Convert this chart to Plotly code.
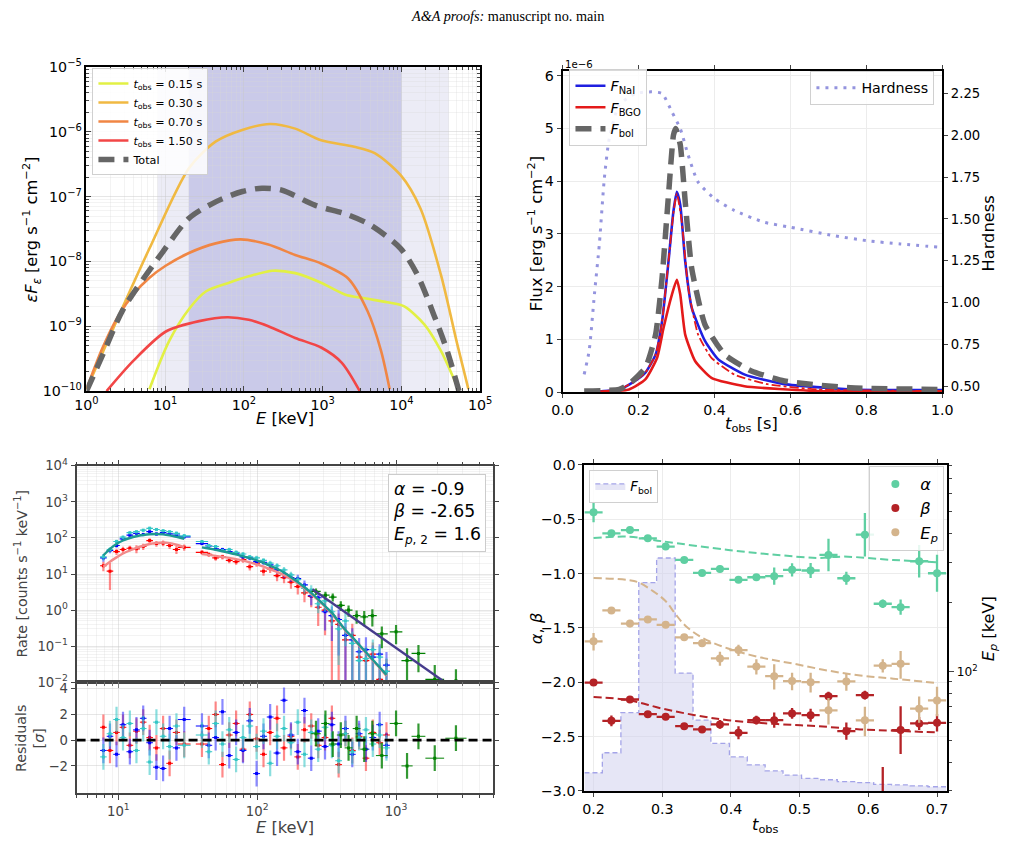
import numpy as np
import plotly.graph_objects as go

W, H = 1012, 842
# the captured page carries an 8 px body margin and is then fitted back to 1012 x 842;
# positions below are given in final picture pixels and mapped through that fit.
SX, OX = 0.9844, 7.9
SY, OY = 0.9814, 7.85
FS = 1 / SX
FONT = "DejaVu Sans"


def fx(p):
    return ((p - OX) / SX) / W


def fy(p):
    return 1 - ((p - OY) / SY) / H


def fsz(s):
    return round(s * FS, 2)


# ---------------- (a) spectra at several observer times ----------------
E_015 = [6.3, 11.2, 20.4, 33.1, 64.6, 115, 229, 447, 955, 1905, 3388, 6607, 10715, 19498, 31623, 45709, 53703]
F_015 = [1.07e-10, 5.9e-10, 1.9e-9, 3.47e-9, 4.7e-9, 5.9e-9, 7.2e-9, 6.6e-9, 4.7e-9, 3.1e-9, 2.7e-9,
         2.34e-9, 2.04e-9, 1.07e-9, 4.2e-10, 1.6e-10, 1.0e-10]
E_030 = [1, 2.4, 6.3, 20, 44, 95, 214, 447, 955, 2512, 4571, 9772, 17378, 31623, 51286, 70795]
F_030 = [1.07e-10, 1.2e-9, 1.58e-8, 2.75e-7, 7.1e-7, 1.07e-6, 1.32e-6, 1.12e-6, 7.4e-7, 5.9e-7, 4.7e-7,
         2.14e-7, 6.6e-8, 6.3e-9, 5.2e-10, 1.07e-10]
E_070 = [1, 1.58, 2.51, 3.98, 6.31, 10, 20, 43.7, 91, 204, 447, 955, 2089, 3715, 5495, 7079]
F_070 = [1.07e-10, 4.5e-10, 1.41e-9, 3.16e-9, 5.6e-9, 8.5e-9, 1.35e-8, 1.9e-8, 2.19e-8, 1.82e-8, 1.26e-8,
         9.3e-9, 5.5e-9, 1.7e-9, 4.2e-10, 1.07e-10]
E_150 = [1.8, 3.9, 10.2, 26.9, 61.7, 115, 204, 447, 955, 1738, 2951]
F_150 = [1.0e-10, 2.9e-10, 8.3e-10, 1.2e-9, 1.38e-9, 1.26e-9, 1.0e-9, 6.6e-10, 4.7e-10, 2.75e-10, 1.0e-10]
E_tot = [1, 1.62, 2.92, 9.33, 20.2, 43.7, 95.5, 170, 302, 794, 2089, 4074, 9772, 15849, 25704, 38019, 53703]
F_tot = [1.0e-10, 3.7e-10, 1.82e-9, 1.41e-8, 4.68e-8, 8.3e-8, 1.2e-7, 1.35e-7, 1.26e-7, 7.4e-8, 5.25e-8,
         3.63e-8, 1.58e-8, 6.3e-9, 1.51e-9, 4.2e-10, 1.0e-10]
band_wide = [8, 40000]
band_narrow = [20, 10000]
spec_labels = ["0.15", "0.30", "0.70", "1.50"]
spec_colors = ["#e2f044", "#f0b942", "#f08644", "#f24646"]

# ---------------- (b) light curves (flux in units of 1e-6) ----------------
t_nai = [0.06, 0.149, 0.184, 0.218, 0.245, 0.262, 0.279, 0.292, 0.301, 0.310, 0.323, 0.340, 0.375, 0.410,
         0.480, 0.584, 0.758, 1.0]
F_nai = [0.0, 0.05, 0.18, 0.37, 0.71, 1.34, 2.48, 3.43, 3.80, 3.55, 2.48, 1.60, 0.97, 0.62, 0.33, 0.15, 0.05, 0.04]
t_bgo = [0.06, 0.175, 0.218, 0.249, 0.266, 0.288, 0.301, 0.310, 0.323, 0.349, 0.392, 0.479, 0.67, 1.0]
F_bgo = [0.0, 0.05, 0.24, 0.65, 1.22, 1.85, 2.13, 1.85, 1.09, 0.59, 0.27, 0.11, 0.02, 0.01]
t_nai2 = [0.06, 0.149, 0.184, 0.218, 0.245, 0.262, 0.279, 0.292, 0.301, 0.314, 0.331, 0.357, 0.392, 0.453,
          0.54, 0.67, 1.0]
F_nai2 = [0.0, 0.05, 0.18, 0.37, 0.71, 1.34, 2.48, 3.40, 3.77, 3.23, 1.97, 1.09, 0.65, 0.33, 0.15, 0.05, 0.02]
t_bol = [0.057, 0.149, 0.175, 0.218, 0.245, 0.262, 0.279, 0.292, 0.298, 0.310, 0.323, 0.340, 0.375, 0.427,
         0.497, 0.584, 0.758, 1.0]
F_bol = [0.02, 0.05, 0.15, 0.46, 1.09, 2.16, 3.74, 4.87, 5.00, 4.69, 3.61, 2.35, 1.28, 0.71, 0.40, 0.21, 0.08, 0.05]
t_hard = [0.057, 0.070, 0.084, 0.097, 0.110, 0.123, 0.149, 0.192, 0.235, 0.262, 0.288, 0.310, 0.331, 0.357,
          0.401, 0.453, 0.531, 0.601, 0.714, 0.80, 0.889, 0.993]
hardness = [0.57, 0.71, 1.05, 1.35, 1.74, 1.98, 2.18, 2.25, 2.26, 2.25, 2.14, 2.04, 1.88, 1.72, 1.62, 1.55,
            1.48, 1.45, 1.40, 1.37, 1.35, 1.33]

# ---------------- (c) count spectra and residuals ----------------
E_lo = [7.8, 8.7, 9.7, 10.8, 12.1, 13.5, 15.1, 16.8, 18.8, 21.0, 23.4, 26.2, 29.8]
E_hi = [40, 44.8, 50.2, 56.2, 62.9, 70.5, 79, 88.4, 99, 111, 124, 139, 156, 175, 196, 219, 245, 275, 308,
        345, 386, 432, 484, 542, 607, 680, 762, 853]
cyan_lo = [30, 48, 80, 105, 140, 150, 165, 185, 172, 160, 150, 135, 115]
blue_lo = [28, 45, 62, 95, 120, 135, 125, 150, 130, 140, 130, 120, 108]
red_lo = [17, 12, 42, 48, 52, 50, 58, 85, 70, 72, 62, 48, 55]
cyan_lo_err = [0.20, 0.15, 0.12, 0.12, 0.10, 0.10, 0.10, 0.10, 0.10, 0.10, 0.10, 0.12, 0.12]
blue_lo_err = [0.22, 0.16, 0.14, 0.12, 0.11, 0.10, 0.11, 0.10, 0.11, 0.10, 0.11, 0.12, 0.13]
red_lo_err = [0.30, 0.70, 0.20, 0.20, 0.18, 0.25, 0.20, 0.15, 0.18, 0.18, 0.20, 0.25, 0.20]
cyan_hi = [80, 62, 58, 45, 48, 40, 36, 30, 28, 24, 20, 17, 13, 9.5, 7.0, 4.0, 3.6, 1.5, 1.8, 0.9, 0.3, 0.5,
           0.12, 0.04, 0.045, 0.08, 0.05, 0.02]
blue_hi = [70, 60, 50, 48, 42, 38, 30, 28, 22, 21, 18, 13, 10, 8, 7.5, 5, 2.5, 2.2, 0.9, 0.7, 0.55, 0.2,
           0.15, 0.07, 0.08, 0.05, 0.06, 0.03]
red_hi = [40, 35, 28, 30, 24, 22, 25, 16, 20, 12, 14, 9, 8, 6, 4.5, 3, 2.4, 1.2, 1.0, 0.5, 0.4, 0.15, 0.2,
          0.05, 0.04, 0.06, 0.012, 0.02]
cyan_hi_err = [0.10, 0.10, 0.10, 0.11, 0.11, 0.12, 0.12, 0.13, 0.14, 0.15, 0.16, 0.18, 0.20, 0.22, 0.25,
               0.30, 0.35, 0.45, 0.50, 0.60, 0.90, 0.80, 1.10, 1.30, 1.10, 0.90, 1.00, 1.30]
blue_hi_err = [0.10, 0.10, 0.11, 0.11, 0.12, 0.12, 0.13, 0.14, 0.15, 0.16, 0.17, 0.20, 0.22, 0.25, 0.28,
               0.33, 0.45, 0.50, 0.70, 0.80, 0.90, 1.20, 1.10, 1.40, 1.20, 1.10, 0.90, 1.30]
red_hi_err = [0.14, 0.15, 0.16, 0.15, 0.17, 0.18, 0.18, 0.22, 0.20, 0.25, 0.24, 0.30, 0.30, 0.35, 0.40,
              0.45, 0.50, 0.70, 0.80, 1.10, 1.00, 1.30, 1.10, 1.50, 1.30, 1.10, 1.60, 1.20]
model_nai_lo = [33, 50, 68, 85, 100, 112, 121, 127, 129, 126, 118, 107, 95]
model_red_lo = [16, 22, 29, 37, 45, 53, 61, 68, 73, 75, 72, 65, 56]
model_nai_hi = [55, 51, 47, 43, 39, 35, 31, 27.5, 24, 20.5, 17, 14, 11, 8.2, 6.0, 4.3, 3.0, 2.0, 1.3, 0.85,
                0.48, 0.28, 0.18, 0.11, 0.068, 0.042, 0.026, 0.016]
model_red_hi = [36, 34, 32, 30, 28, 26, 23.5, 21, 18.5, 16, 13.5, 11.5, 9.3, 7.3, 5.5, 4.0, 2.8, 1.9, 1.25,
                0.8, 0.46, 0.27, 0.17, 0.105, 0.065, 0.04, 0.025, 0.015]
E_bgo = [265, 310, 350, 400, 455, 520, 590, 675, 790, 1000, 1200, 1450, 1900, 2700]
R_bgo = [3.3, 2.6, 2.3, 1.35, 1.0, 0.7, 0.65, 0.7, 0.22, 0.25, 0.04, 0.063, 0.012, 0.011]
bgo_err = [0.20, 0.25, 0.25, 0.30, 0.35, 0.40, 0.45, 0.50, 0.60, 0.55, 1.20, 0.70, 1.50, 1.10]
E_bgo_model = [250, 500, 1000, 2000, 3000]
R_bgo_model = [3.8, 0.58, 0.089, 0.0137, 0.0046]
res_cyan = [-1.3, 0.5, 1.6, 0.2, 1.3, -0.8, 0.9, -1.7, 1.4, 0.3, -0.5, 1.1, -0.4,
            0.4, -0.9, 1.3, -0.3, 0.8, -1.5, 0.2, 1.1, -0.5, 0.7, -1.8, 0.3, 0.9, -0.2, 1.4, -1.1, 0.6,
            -0.7, 1.0, -0.4, -1.6, 0.5, -0.9, 0.2, 0.8, -0.3, 0.4, -0.6]
res_blue = [-0.8, 0.3, -1.1, 1.2, -0.9, 0.8, 1.7, -0.2, -2.1, -2.2, 0.9, -0.6, 1.6,
            1.1, -0.4, 0.2, 2.2, -1.2, 0.6, -0.8, 1.5, -2.6, 0.3, 1.8, -1.0, 3.1, 0.4, -0.9, 2.3, -1.4,
            0.7, -0.5, 1.2, -0.3, 0.9, -1.1, 0.5, -0.7, 0.2, 1.2, -0.4]
res_red = [1.0, -0.8, 0.6, 1.0, -0.4, 0.7, 1.4, 0.2, -0.6, 0.9, -1.8, 0.6, -0.3,
           -0.3, 0.9, 2.0, -1.9, 0.4, 1.3, -0.7, 2.0, 0.1, -1.1, 0.6, 1.7, -0.6, 0.3, -1.3, 0.8, 1.1,
           -0.4, 0.2, 1.7, -1.9, 0.5, -0.8, 0.3, -1.4, 0.6, -0.2, 0.4]
res_bgo = [0.5, 1.3, -0.3, 0.4, -0.6, 0.9, -0.7, 0.5, -1.2, 1.3, -2.0, 0.3, -1.4, 0.15]

# ---------------- (d) parameter evolution ----------------
t_bins = [0.200, 0.226, 0.253, 0.279, 0.305, 0.332, 0.358, 0.384, 0.411, 0.437, 0.463, 0.489, 0.516, 0.542,
          0.568, 0.595, 0.621, 0.647, 0.674, 0.700]
alpha = [-0.437, -0.63, -0.60, -0.676, -0.752, -0.875, -0.994, -0.957, -1.058, -1.034, -1.024, -0.966,
         -0.972, -0.829, -1.043, -0.642, -1.278, -1.309, -0.887, -0.997]
alpha_err = [0.09, 0.03, 0.03, 0.02, 0.02, 0.02, 0.02, 0.03, 0.03, 0.03, 0.08, 0.06, 0.07, 0.15, 0.06, 0.2,
             0.04, 0.07, 0.15, 0.17]
beta = [-2.003, -2.355, -2.159, -2.294, -2.318, -2.404, -2.434, -2.388, -2.465, -2.349, -2.349, -2.287,
        -2.303, -2.128, -2.45, -2.119, -3.2, -2.44, -2.379, -2.373]
beta_err = [0.01, 0.05, 0.02, 0.02, 0.02, 0.02, 0.02, 0.04, 0.06, 0.04, 0.07, 0.05, 0.06, 0.04, 0.08, 0.04,
            0.42, 0.22, 0.06, 0.08]
Ep = [135.5, 185, 162, 169, 160, 141, 133, 114, 124, 105, 95.4, 90.8, 89.8, 67.6, 90.4, 61.1, 106, 108,
      68.7, 74.7]
Ep_err = [12, 6, 6, 5, 5, 5, 5, 8, 7, 8, 12, 8, 9, 9, 8, 9, 7, 15, 9, 11]
t_alpha_model = [0.2, 0.2515, 0.30, 0.396, 0.468, 0.526, 0.564, 0.636, 0.70]
alpha_model = [-0.673, -0.661, -0.703, -0.783, -0.829, -0.856, -0.844, -0.875, -0.896]
t_beta_model = [0.2, 0.2515, 0.2996, 0.3477, 0.3958, 0.468, 0.5257, 0.5883, 0.6364, 0.70]
beta_model = [-2.135, -2.165, -2.242, -2.303, -2.349, -2.385, -2.404, -2.434, -2.446, -2.462]
t_Ep_model = [0.2, 0.2515, 0.2659, 0.2852, 0.3044, 0.3188, 0.3333, 0.3573, 0.3958, 0.4439, 0.4920, 0.5402,
              0.5883, 0.6364, 0.70]
Ep_model = [256.6, 251, 245, 226, 204, 179, 159, 141, 126, 115, 108, 101, 96, 93, 89]
Fbol_hist = [0.39, 0.82, 1.68, 4.47, 5.0, 2.53, 1.52, 1.02, 0.73, 0.56, 0.43, 0.34, 0.27, 0.24, 0.2, 0.18,
             0.14, 0.13, 0.11, 0.09]
bin_half = 0.0132

fig = go.Figure()

# ======== panel (a) ========
for E, F, lab, col in zip([E_015, E_030, E_070, E_150], [F_015, F_030, F_070, F_150], spec_labels, spec_colors):
    fig.add_trace(go.Scatter(x=E, y=F, mode="lines", line=dict(color=col, width=2.6, shape="spline", smoothing=0.8),
                             name=f"<i>t</i><sub>obs</sub> = {lab} s", xaxis="x", yaxis="y", legend="legend"))
fig.add_trace(go.Scatter(x=E_tot, y=F_tot, mode="lines",
                         line=dict(color="#666666", width=5.5, dash="16px,9px", shape="spline", smoothing=0.8),
                         name="Total", xaxis="x", yaxis="y", legend="legend"))

# ======== panel (b) ========
fig.add_trace(go.Scatter(x=t_nai, y=F_nai, mode="lines", line=dict(color="#1f1fe0", width=2.6, shape="spline", smoothing=0.5),
                         name="<i>F</i><sub>NaI</sub>", xaxis="x2", yaxis="y2", legend="legend2"))
fig.add_trace(go.Scatter(x=t_bgo, y=F_bgo, mode="lines", line=dict(color="#e41a1a", width=2.6, shape="spline", smoothing=0.5),
                         name="<i>F</i><sub>BGO</sub>", xaxis="x2", yaxis="y2", legend="legend2"))
fig.add_trace(go.Scatter(x=t_nai2, y=F_nai2, mode="lines", line=dict(color="#e41a1a", width=1.8, dash="dashdot", shape="spline", smoothing=0.5),
                         showlegend=False, xaxis="x2", yaxis="y2"))
fig.add_trace(go.Scatter(x=t_bol, y=F_bol, mode="lines", line=dict(color="#666666", width=5.5, dash="16px,9px", shape="spline", smoothing=0.5),
                         name="<i>F</i><sub>bol</sub>", xaxis="x2", yaxis="y2", legend="legend2"))
fig.add_trace(go.Scatter(x=t_hard, y=hardness, mode="lines", line=dict(color="#9494de", width=3, dash="3px,6px", shape="spline", smoothing=0.6),
                         name="Hardness", xaxis="x2", yaxis="y3", legend="legend3"))


# ======== panel (c) ========
def xerr(E):
    lE = np.log10(E)
    d = np.gradient(lE) / 2
    E = np.asarray(E, float)
    return E * (10 ** d - 1), E * (1 - 10 ** -d)


def add_det(E, R, rel, color, ecolor):
    E = np.asarray(E, float)
    R = np.asarray(R, float)
    err = R * np.asarray(rel, float)
    lo = np.minimum(err, R * 0.9999)
    xp, xm = xerr(E)
    fig.add_trace(go.Scatter(
        x=E, y=R, mode="markers", marker=dict(color=color, size=3, symbol="square"),
        error_y=dict(type="data", array=err, arrayminus=lo, symmetric=False, color=ecolor, thickness=2.2, width=0),
        error_x=dict(type="data", array=xp, arrayminus=xm, symmetric=False, color=color, thickness=1.2, width=0),
        showlegend=False, xaxis="x3", yaxis="y4"))


def add_res(E, r, color, ecolor):
    E = np.asarray(E, float)
    xp, xm = xerr(E)
    fig.add_trace(go.Scatter(
        x=E, y=r, mode="markers", marker=dict(color=color, size=3, symbol="square"),
        error_y=dict(type="constant", value=1.0, color=ecolor, thickness=2.2, width=0),
        error_x=dict(type="data", array=xp, arrayminus=xm, symmetric=False, color=color, thickness=1, width=0),
        showlegend=False, xaxis="x4", yaxis="y5"))


dets = [
    (red_lo + red_hi, red_lo_err + red_hi_err, res_red, "#ff0000", "rgba(255,40,40,0.55)"),
    (blue_lo + blue_hi, blue_lo_err + blue_hi_err, res_blue, "#0000ff", "rgba(40,40,255,0.55)"),
    (cyan_lo + cyan_hi, cyan_lo_err + cyan_hi_err, res_cyan, "#33c6c6", "rgba(60,200,200,0.6)"),
]
E_all = E_lo + E_hi
for R, rel, res, col, ecol in dets:
    add_det(E_all, R, rel, col, ecol)
add_det(E_bgo, R_bgo, bgo_err, "#008000", "rgba(0,128,0,0.8)")

for Em, Rm, col in [(E_lo, model_red_lo, "#f28a8a"), (E_hi, model_red_hi, "#f28a8a"),
                    (E_lo, model_nai_lo, "#1c9a92"), (E_hi, model_nai_hi, "#1c9a92")]:
    fig.add_trace(go.Scatter(x=Em, y=Rm, mode="lines", line=dict(color=col, width=2.4, shape="spline", smoothing=0.6),
                             showlegend=False, xaxis="x3", yaxis="y4"))
fig.add_trace(go.Scatter(x=E_bgo_model, y=R_bgo_model, mode="lines", line=dict(color="#463c8c", width=2.4),
                         showlegend=False, xaxis="x3", yaxis="y4"))

for R, rel, res, col, ecol in dets:
    add_res(E_all, res, col, ecol)
add_res(E_bgo, res_bgo, "#008000", "rgba(0,128,0,0.8)")
fig.add_trace(go.Scatter(x=[5, 5000], y=[0, 0], mode="lines", line=dict(color="black", width=2.6, dash="9px,5px"),
                         showlegend=False, xaxis="x4", yaxis="y5"))

# ======== panel (d) ========
tb = np.asarray(t_bins)
edges = np.r_[tb - bin_half, tb[-1] + bin_half]
hist_y = np.r_[Fbol_hist, Fbol_hist[-1]]
fig.add_trace(go.Scatter(x=edges, y=hist_y, mode="lines", line=dict(color="#a4a4e8", width=1.3, dash="5px,3px", shape="hv"),
                         fill="tozeroy", fillcolor="rgba(205,205,238,0.5)",
                         name="<i>F</i><sub>bol</sub>", xaxis="x5", yaxis="y6", legend="legend4"))

c_a, c_b, c_e = "#5fcfa2", "#b42226", "#d4b48c"
fig.add_trace(go.Scatter(x=t_alpha_model, y=alpha_model, mode="lines", line=dict(color=c_a, width=2, dash="8px,4px", shape="spline"),
                         showlegend=False, xaxis="x5", yaxis="y7"))
fig.add_trace(go.Scatter(x=t_beta_model, y=beta_model, mode="lines", line=dict(color=c_b, width=2, dash="8px,4px", shape="spline"),
                         showlegend=False, xaxis="x5", yaxis="y7"))
fig.add_trace(go.Scatter(x=t_Ep_model, y=Ep_model, mode="lines", line=dict(color=c_e, width=2, dash="8px,4px", shape="spline"),
                         showlegend=False, xaxis="x5", yaxis="y8"))
for yv, ye, col, nm, ya in [(alpha, alpha_err, c_a, "<i>α</i>", "y7"), (beta, beta_err, c_b, "<i>β</i>", "y7"),
                            (Ep, Ep_err, c_e, "<i>E</i><sub><i>p</i></sub>", "y8")]:
    fig.add_trace(go.Scatter(x=t_bins, y=yv, mode="markers", marker=dict(color=col, size=8),
                             error_y=dict(type="data", array=ye, color=col, thickness=2.3, width=0),
                             error_x=dict(type="constant", value=bin_half, color=col, thickness=2.3, width=0),
                             name=nm, xaxis="x5", yaxis=ya, legend="legend5"))


# ======== layout ========
def decade_minor(lo, hi):
    return [k * 10.0 ** d for d in range(lo, hi) for k in range(2, 10)]


def pw(e):
    return "10<sup>%s</sup>" % (str(e).replace("-", "−"))


grid_c = "rgba(200,200,200,0.45)"
minor_grid_c = "rgba(215,215,215,0.3)"

common_tick = dict(family=FONT, size=fsz(14), color="black")
gray_tick = dict(family=FONT, size=fsz(13), color="#444444")

layout = dict(
    width=W, height=H, margin=dict(l=0, r=0, t=0, b=0),
    paper_bgcolor="white", plot_bgcolor="white",
    font=dict(family=FONT, color="black"),
    # panel a
    xaxis=dict(domain=[fx(83), fx(480)], anchor="y", type="log", range=[0, 5],
               tickvals=[10.0 ** k for k in range(0, 6)], ticktext=[pw(k) for k in range(0, 6)],
               tickfont=common_tick, ticks="inside", ticklen=5, showline=True, linecolor="black", linewidth=1.6,
               mirror="allticks", showgrid=True, gridcolor=grid_c,
               minor=dict(tickmode="array", tickvals=decade_minor(0, 5), ticks="inside", ticklen=3,
                          showgrid=True, gridcolor=minor_grid_c)),
    yaxis=dict(domain=[fy(390), fy(65)], anchor="x", type="log", range=[-10, -5],
               tickvals=[10.0 ** k for k in range(-10, -4)], ticktext=[pw(k) for k in range(-10, -4)],
               tickfont=common_tick, ticks="inside", ticklen=5, showline=True, linecolor="black", linewidth=1.6,
               mirror="allticks", showgrid=True, gridcolor=grid_c,
               minor=dict(tickmode="array", tickvals=decade_minor(-10, -5), ticks="inside", ticklen=3,
                          showgrid=True, gridcolor=minor_grid_c)),
    # panel b
    xaxis2=dict(domain=[fx(563), fx(946)], anchor="y2", range=[0, 1], dtick=0.2, tickformat=".1f",
                tickfont=common_tick, ticks="outside", ticklen=4, showline=True, linecolor="black", linewidth=1.6,
                mirror="allticks", showgrid=True, gridcolor="#ececec", zeroline=False),
    yaxis2=dict(domain=[fy(391), fy(69)], anchor="x2", range=[0, 6.09], dtick=1,
                tickfont=common_tick, ticks="outside", ticklen=4, showline=True, linecolor="black", linewidth=1.6,
                mirror=True, showgrid=True, gridcolor="#ececec", zeroline=False),
    yaxis3=dict(overlaying="y2", anchor="x2", side="right", range=[0.464, 2.385],
                tickvals=[0.5, 0.75, 1.0, 1.25, 1.5, 1.75, 2.0, 2.25], tickformat=".2f",
                tickfont=dict(family=FONT, size=fsz(13), color="black"), ticks="outside", ticklen=4,
                showline=True, linecolor="black", linewidth=1.6, showgrid=False, zeroline=False),
    # panel c
    xaxis3=dict(domain=[fx(73), fx(493)], anchor="y4", type="log", range=[np.log10(5), np.log10(5000)],
                tickvals=[10, 100, 1000], showticklabels=False, ticks="outside", ticklen=4, tickcolor="#444444",
                showline=True, linecolor="#444444", linewidth=2, mirror="allticks",
                showgrid=True, gridcolor=grid_c,
                minor=dict(tickmode="array", tickvals=[v for v in decade_minor(0, 4) if 5 <= v <= 5000],
                           ticks="outside", ticklen=2, tickcolor="#444444", showgrid=True, gridcolor=minor_grid_c)),
    yaxis4=dict(domain=[fy(682), fy(465)], anchor="x3", type="log", range=[-2, 4],
                tickvals=[10.0 ** k for k in range(-2, 5)], ticktext=[pw(k) for k in range(-2, 5)],
                tickfont=gray_tick, ticks="outside", ticklen=4, tickcolor="#444444",
                showline=True, linecolor="#444444", linewidth=2, mirror="allticks",
                showgrid=True, gridcolor=grid_c,
                minor=dict(tickmode="array", tickvals=decade_minor(-2, 4), ticks="", showgrid=True,
                           gridcolor=minor_grid_c)),
    xaxis4=dict(domain=[fx(73), fx(493)], anchor="y5", type="log", range=[np.log10(5), np.log10(5000)],
                tickvals=[10, 100, 1000], ticktext=[pw(1), pw(2), pw(3)], tickfont=gray_tick,
                ticks="outside", ticklen=5, tickcolor="#444444",
                showline=True, linecolor="#444444", linewidth=2, mirror=True,
                showgrid=True, gridcolor=grid_c,
                minor=dict(tickmode="array", tickvals=[v for v in decade_minor(0, 4) if 5 <= v <= 5000],
                           ticks="outside", ticklen=3, tickcolor="#444444", showgrid=True, gridcolor=minor_grid_c)),
    yaxis5=dict(domain=[fy(793), fy(682)], anchor="x4", range=[-4.1, 4.5], tickvals=[-2, 0, 2, 4],
                ticktext=["−2", "0", "2", "4"], tickfont=gray_tick, ticks="outside", ticklen=4, tickcolor="#444444",
                showline=True, linecolor="#444444", linewidth=2, mirror="allticks",
                showgrid=True, gridcolor=grid_c, zeroline=False),
    # panel d
    xaxis5=dict(domain=[fx(585), fx(951)], anchor="y6", range=[0.1866, 0.715],
                tickvals=[0.2, 0.3, 0.4, 0.5, 0.6, 0.7], tickformat=".1f",
                tickfont=dict(family=FONT, size=fsz(14), color="black"), ticks="outside", ticklen=4,
                showline=True, linecolor="black", linewidth=2, mirror="allticks",
                showgrid=True, gridcolor="#ececec", zeroline=False),
    yaxis6=dict(domain=[fy(791), fy(464)], anchor="x5", range=[0, 7.0], visible=False, showgrid=False),
    yaxis7=dict(overlaying="y6", anchor="x5", side="left", range=[-3, 0],
                tickvals=[-3, -2.5, -2, -1.5, -1, -0.5, 0],
                ticktext=["−3.0", "−2.5", "−2.0", "−1.5", "−1.0", "−0.5", "0.0"],
                tickfont=dict(family=FONT, size=fsz(14), color="black"), ticks="outside", ticklen=4,
                showline=True, linecolor="black", linewidth=2, mirror=True,
                showgrid=True, gridcolor="#ececec", zeroline=False),
    yaxis8=dict(overlaying="y6", anchor="x5", side="right", type="log",
                range=[np.log10(30), np.log10(802)], tickvals=[100], ticktext=[pw(2)],
                tickfont=dict(family=FONT, size=fsz(12), color="black"), ticks="outside", ticklen=5,
                showline=True, linecolor="black", linewidth=2, showgrid=False, zeroline=False,
                minor=dict(tickmode="array", tickvals=[30, 40, 50, 60, 70, 80, 90, 200, 300, 400, 500, 600, 700, 800],
                           ticks="outside", ticklen=3, showgrid=False)),
    # legends
    legend=dict(x=fx(89), y=fy(66), xanchor="left", yanchor="top", bgcolor="rgba(255,255,255,0.85)",
                bordercolor="#d0d0d0", borderwidth=1, font=dict(family=FONT, size=fsz(11)), itemwidth=30,
                tracegroupgap=0),
    legend2=dict(x=fx(570), y=fy(67), xanchor="left", yanchor="top", bgcolor="rgba(255,255,255,0.85)",
                 bordercolor="#d0d0d0", borderwidth=1, font=dict(family=FONT, size=fsz(14)), itemwidth=30),
    legend3=dict(x=fx(938), y=fy(69), xanchor="right", yanchor="top", bgcolor="rgba(255,255,255,0.85)",
                 bordercolor="#d0d0d0", borderwidth=1, font=dict(family=FONT, size=fsz(14)), itemwidth=40),
    legend4=dict(x=fx(590), y=fy(469), xanchor="left", yanchor="top", bgcolor="rgba(255,255,255,0.85)",
                 bordercolor="#d0d0d0", borderwidth=1, font=dict(family=FONT, size=fsz(13)), itemwidth=30),
    legend5=dict(x=fx(948), y=fy(465), xanchor="right", yanchor="top", bgcolor="rgba(255,255,255,0.85)",
                 bordercolor="#d0d0d0", borderwidth=1, font=dict(family=FONT, size=fsz(16)), itemwidth=40),
)
fig.update_layout(**layout)

# background bands in panel (a)
fig.add_shape(type="rect", xref="x", yref="y domain", x0=band_wide[0], x1=band_wide[1], y0=0, y1=1,
              fillcolor="#ececf6", line=dict(width=0), layer="below")
fig.add_shape(type="rect", xref="x", yref="y domain", x0=band_narrow[0], x1=band_narrow[1], y0=0, y1=1,
              fillcolor="#cacae9", line=dict(width=0), layer="below")

ann = []


def A(text, x, y, size=16, angle=0, color="black", xanchor="center", yanchor="middle", family=FONT, **kw):
    ann.append(dict(text=text, x=fx(x), y=fy(y), xref="paper", yref="paper", showarrow=False,
                    textangle=angle, xanchor=xanchor, yanchor=yanchor,
                    font=dict(family=family, size=fsz(size), color=color), **kw))


A("<i>A&A proofs:</i> manuscript no. main", 508, 14, size=14, family="Liberation Serif")
A("<i>E</i> [keV]", 283, 418, size=16)
A("<i>εF</i><sub><i>ε</i></sub> [erg s<sup>−1</sup> cm<sup>−2</sup>]", 27, 228, size=16, angle=-90)
A("Flux [erg s<sup>−1</sup> cm<sup>−2</sup>]", 535, 232, size=16, angle=-90)
A("Hardness", 993, 232, size=16, angle=-90)
A("<i>t</i><sub>obs</sub> [s]", 754, 424, size=16)
A("1e−6", 563, 63, size=10, xanchor="left")
A("Rate [counts s<sup>−1</sup> keV<sup>−1</sup>]", 17, 573, size=14, angle=-90, color="#444444")
A("Residuals<br>[<i>σ</i>]", 26, 738, size=14, angle=-90, color="#444444")
A("<i>E</i> [keV]", 283, 828, size=16, color="#444444")
A("<i>α</i>, <i>β</i>", 537, 628, size=16, angle=-90)
A("<i>E</i><sub><i>p</i></sub> [keV]", 993, 628, size=16, angle=-90)
A("<i>t</i><sub>obs</sub>", 768, 826, size=16)
A("<i>α</i> = -0.9<br><i>β</i> = -2.65<br><i>E</i><sub><i>p</i>, 2</sub> = 1.6", 486, 473, size=17,
  xanchor="right", yanchor="top", align="left", bgcolor="white", bordercolor="#cccccc", borderwidth=1, borderpad=4)
fig.update_layout(annotations=ann)

fig.write_html("out.html")
